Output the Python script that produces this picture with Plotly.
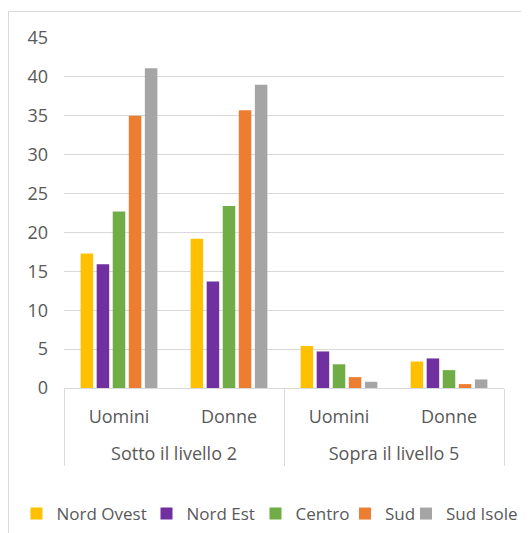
import plotly.graph_objects as go

levels = ["<br>Sotto il livello 2", "<br>Sotto il livello 2", "<br>Sopra il livello 5", "<br>Sopra il livello 5"]
sexes = ["Uomini", "Donne", "Uomini", "Donne"]

series_names = ["Nord Ovest", "Nord Est", "Centro", "Sud", "Sud Isole"]
nord_ovest = [17.3, 19.2, 5.4, 3.4]
nord_est = [15.9, 13.7, 4.7, 3.8]
centro = [22.7, 23.4, 3.05, 2.3]
sud = [35.0, 35.7, 1.4, 0.5]
sud_isole = [41.1, 39.0, 0.8, 1.1]
colors = ["#FFC000", "#7030A0", "#70AD47", "#ED7D31", "#A5A5A5"]

y_ticks = [0, 5, 10, 15, 20, 25, 30, 35, 40, 45]

FONT = "Open Sans, Lato, sans-serif"
TXT = "#595959"

legend_ids = ["legend", "legend2", "legend3", "legend4", "legend5"]
legend_x = [-0.108, 0.1875, 0.4352, 0.6386, 0.7773]

fig = go.Figure()
for name, vals, col, lid in zip(series_names, [nord_ovest, nord_est, centro, sud, sud_isole], colors, legend_ids):
    fig.add_trace(go.Bar(x=[levels, sexes], y=vals, name=name, legend=lid,
                         marker=dict(color=col, line=dict(width=0))))

legend_style = dict(orientation="h", xanchor="left", y=-0.36, yanchor="middle",
                    font=dict(size=17, color=TXT, family=FONT), bgcolor="rgba(0,0,0,0)")
layout_legends = {}
for lid, lx in zip(legend_ids, legend_x):
    layout_legends[lid] = dict(legend_style, x=lx)

fig.update_layout(
    width=521, height=525,
    margin=dict(l=56, r=25, t=30, b=145, autoexpand=False),
    paper_bgcolor="white", plot_bgcolor="white",
    barmode="group", bargap=0.27, bargroupgap=0.22,
    font=dict(family=FONT, color=TXT, size=18),
    showlegend=True,
    xaxis=dict(type="multicategory", showgrid=False, showline=True, linecolor="#D9D9D9",
               ticks="", showdividers=True, dividercolor="#D9D9D9", dividerwidth=1,
               ticklabelstandoff=12, automargin=False,
               tickfont=dict(size=18, color=TXT)),
    yaxis=dict(range=[0, 45], tickvals=y_ticks, showgrid=True, gridcolor="#D9D9D9",
               zeroline=False, showline=False, ticks="", ticklabelstandoff=15, automargin=False,
               tickfont=dict(size=18, color=TXT)),
    shapes=[dict(type="rect", xref="paper", yref="paper", x0=(0.5 - 56) / 440, x1=2, y0=-2, y1=(380 - 3.5) / 350,
                 line=dict(color="#D9D9D9", width=1), fillcolor="rgba(0,0,0,0)", layer="below")],
    **layout_legends,
)

fig.write_html("out.html")
